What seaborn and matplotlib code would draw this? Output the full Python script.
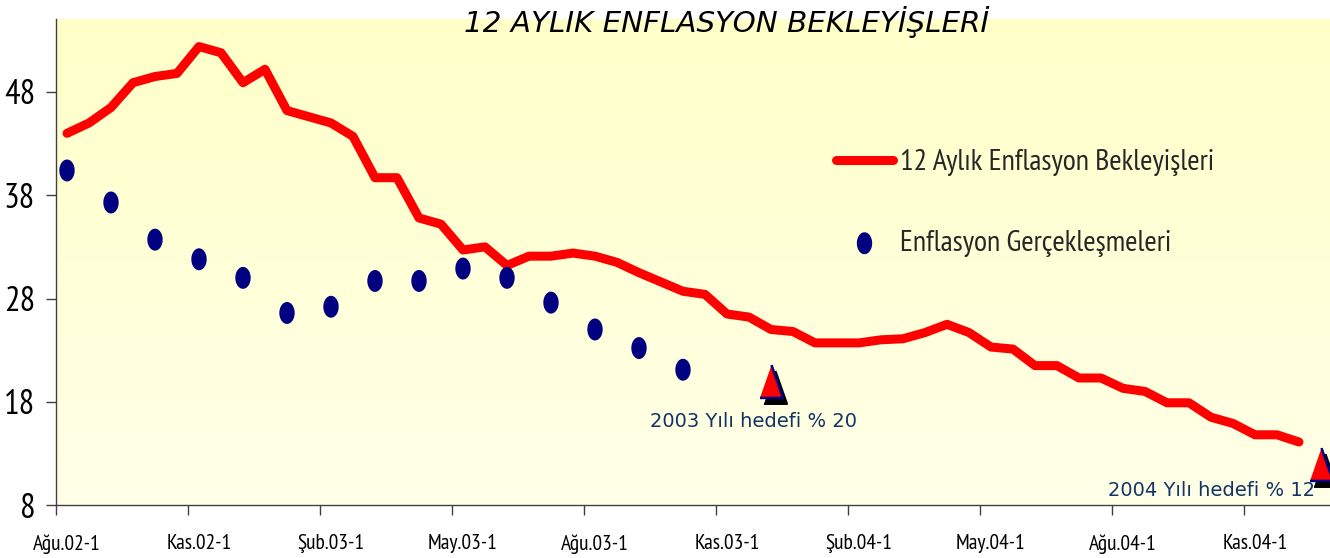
import numpy as np
import pandas as pd
import matplotlib
matplotlib.use('Agg')
import matplotlib.pyplot as plt
import seaborn as sns
from matplotlib import transforms
from matplotlib.colors import LinearSegmentedColormap

# half-month survey periods, Ağu.02-1 ... Ara.04-2
months = ['Ağu', 'Eyl', 'Eki', 'Kas', 'Ara', 'Oca', 'Şub', 'Mar', 'Nis', 'May', 'Haz', 'Tem']
periods = []
for i in range(29):
    yr = 2 + (i + 7) // 12
    for half in (1, 2):
        periods.append(f'{months[i % 12]}.{yr:02d}-{half}')

# 12 month ahead expectations (one value per half month)
expectation = [44.0, 45.0, 46.5, 48.9, 49.5, 49.8, 52.4, 51.8, 48.9, 50.2,
               46.2, 45.6, 45.0, 43.7, 39.7, 39.7, 35.8, 35.2, 32.7, 33.0,
               31.2, 32.1, 32.1, 32.4, 32.1, 31.5, 30.5, 29.6, 28.7, 28.4,
               26.5, 26.2, 25.0, 24.8, 23.7, 23.7, 23.7, 24.0, 24.1, 24.7,
               25.5, 24.7, 23.3, 23.1, 21.5, 21.5, 20.3, 20.3, 19.3, 19.0,
               17.9, 17.9, 16.5, 15.9, 14.8, 14.8, 14.1]

# realised annual inflation (monthly)
realized_periods = ['Ağu.02-1', 'Eyl.02-1', 'Eki.02-1', 'Kas.02-1', 'Ara.02-1',
                    'Oca.03-1', 'Şub.03-1', 'Mar.03-1', 'Nis.03-1', 'May.03-1',
                    'Haz.03-1', 'Tem.03-1', 'Ağu.03-1', 'Eyl.03-1', 'Eki.03-1']
realized = [40.4, 37.3, 33.7, 31.8, 30.0, 26.6, 27.2, 29.7, 29.7, 30.9,
            30.0, 27.6, 25.0, 23.2, 21.1]

# year-end targets
target_periods = ['Ara.03-1', 'Ara.04-2']
targets = [20, 12]
target_labels = ['2003 Yılı hedefi % 20', '2004 Yılı hedefi % 12']

tick_labels = ['Ağu.02-1', 'Kas.02-1', 'Şub.03-1', 'May.03-1', 'Ağu.03-1',
               'Kas.03-1', 'Şub.04-1', 'May.04-1', 'Ağu.04-1', 'Kas.04-1']
yticks = [8, 18, 28, 38, 48]

df_exp = pd.DataFrame({'pos': np.arange(len(expectation)), 'value': expectation})
df_real = pd.DataFrame({'pos': [periods.index(p) for p in realized_periods], 'value': realized})
df_tgt = pd.DataFrame({'pos': [periods.index(p) for p in target_periods], 'value': targets})

sns.set_theme(style='ticks')
narrow = ['PT Sans Narrow', 'Roboto Condensed', 'Archivo Narrow', 'DejaVu Sans']
plt.rcParams['font.family'] = narrow

fig = plt.figure(figsize=(13.3, 5.58), dpi=100)
ax = fig.add_axes([56 / 1330, 53 / 558, 1276 / 1330, 486 / 558])

bg = LinearSegmentedColormap.from_list('bg', ['#FFFFC8', '#FFFFE8'])
ax.imshow(np.linspace(0, 1, 256).reshape(-1, 1), cmap=bg, extent=[0, 1, 0, 1],
          transform=ax.transAxes, aspect='auto', zorder=0)

sns.lineplot(x='pos', y='value', data=df_exp, color='#FF0000', linewidth=6.5,
             solid_capstyle='round', label='12 Aylık Enflasyon Bekleyişleri', ax=ax, zorder=3)

t = np.linspace(0, 2 * np.pi, 40)
oval = np.column_stack([0.7 * np.cos(t), np.sin(t)])
sns.scatterplot(x='pos', y='value', data=df_real, marker=oval, s=250, color='#000080',
                edgecolor='none', label='Enflasyon Gerçekleşmeleri', ax=ax, zorder=4)

tri = [(-0.35, -0.5), (0.35, -0.5), (0.0, 0.5)]
shadow = transforms.offset_copy(ax.transData, fig=fig, x=4, y=-6, units='dots')
sns.scatterplot(x='pos', y='value', data=df_tgt, marker=tri, s=560, color='black',
                edgecolor='black', linewidth=1.5, transform=shadow, legend=False, ax=ax, zorder=5)
sns.scatterplot(x='pos', y='value', data=df_tgt, marker=tri, s=560, color='#FF0000',
                edgecolor='#000080', linewidth=1.8, legend=False, ax=ax, zorder=6)

offsets = [(-17, -40, 'center'), (-6, -27, 'right')]
for x, y, lab, (dx, dy, ha) in zip(df_tgt['pos'], df_tgt['value'], target_labels, offsets):
    ax.annotate(lab, (x, y), xytext=(dx, dy), textcoords='offset pixels', ha=ha, va='center',
                fontsize=14, color='#113366', family=['DejaVu Sans'], zorder=7)

ax.set_xlim(-0.5, len(periods) - 0.5)
ax.set_ylim(8, 8 + 486 / 10.325)
ax.set_xticks(np.arange(-0.5, len(periods), 6))
ax.set_xticklabels([])
ax.set_xticks(np.arange(0, len(periods), 6), minor=True)
ax.set_xticklabels(tick_labels, minor=True)
ax.set_yticks(yticks)
ax.set_yticklabels([str(v) for v in yticks])
ax.tick_params(axis='x', which='major', length=7, width=1, color='#404040')
ax.tick_params(axis='x', which='minor', length=0, pad=21, labelsize=15.5, labelcolor='black')
ax.tick_params(axis='y', length=7, width=1, color='#404040', pad=8, labelsize=25, labelcolor='black')
ax.set_xlabel('')
ax.set_ylabel('')
for side in ['top', 'right']:
    ax.spines[side].set_visible(False)
for side in ['left', 'bottom']:
    ax.spines[side].set_color('#404040')
    ax.spines[side].set_linewidth(1)

ax.legend(loc='center left', bbox_to_anchor=(836 / 1330, 0.636), bbox_transform=fig.transFigure,
          frameon=False, fontsize=21.6, handlelength=1.9, handletextpad=0.23, labelspacing=1.8,
          borderpad=0, borderaxespad=0)

fig.text(726 / 1330, 1 - 22 / 558, '12 AYLIK ENFLASYON BEKLEYİŞLERİ', ha='center', va='center',
         fontsize=21.2, style='italic', color='black', family=['DejaVu Sans'])

fig.savefig('out.png', dpi=100)
